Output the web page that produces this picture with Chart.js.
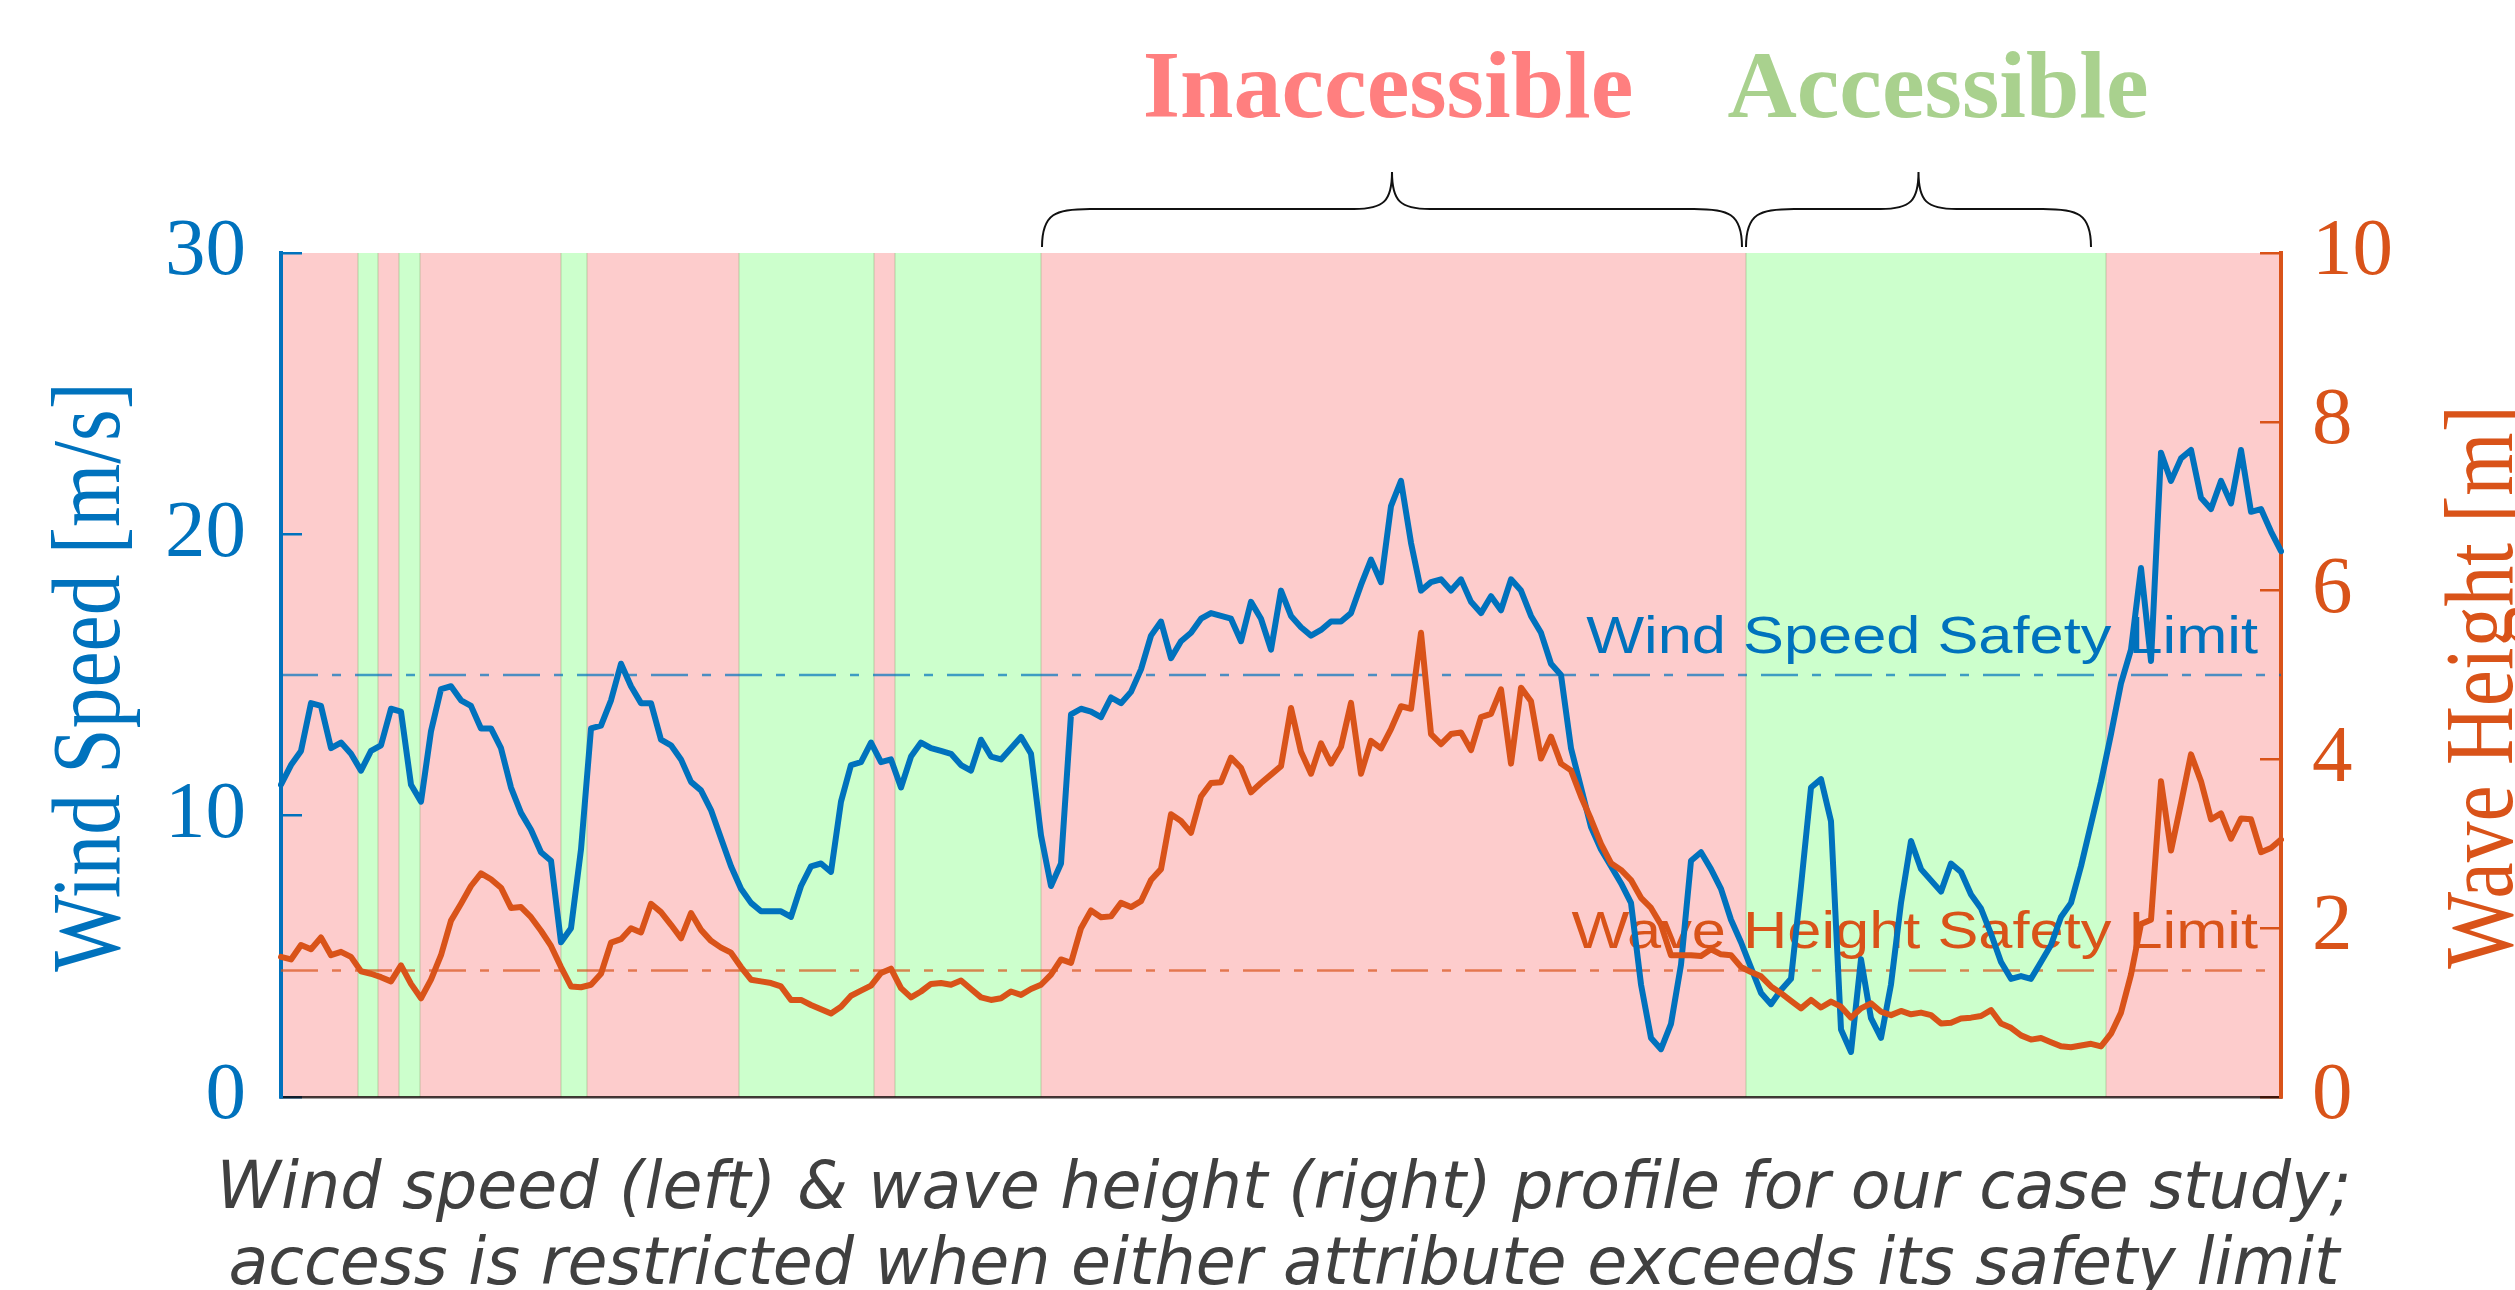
<!DOCTYPE html>
<html>
<head>
<meta charset="utf-8">
<script src="https://cdn.jsdelivr.net/npm/chart.js@4.4.1/dist/chart.umd.min.js"></script>
<style>
  html, body { margin: 0; padding: 0; background: #fff; }
  #wrap { position: relative; width: 2515px; height: 1290px; }
</style>
</head>
<body>
<div id="wrap"><canvas id="c"></canvas></div>
<script>
/* wind speed + wave height profile with access windows (Chart.js) */
(function () {
  'use strict';

  // one reading per hour
  const windSpeed = [
    11.1, 11.8, 12.3, 14.0, 13.9, 12.4, 12.6, 12.2, 11.6, 12.3, 12.5, 13.8, 13.7, 11.1, 10.5, 13.0, 14.5, 14.6, 14.1, 13.9, 13.1, 13.1, 12.4, 11.0, 10.1,
    9.5, 8.7, 8.4, 5.5, 6.0, 8.8, 13.1, 13.2, 14.1, 15.4, 14.6, 14.0, 14.0, 12.7, 12.5, 12.0, 11.2, 10.9, 10.2, 9.2, 8.2, 7.4, 6.9, 6.6, 6.6,
    6.6, 6.4, 7.5, 8.2, 8.3, 8.0, 10.5, 11.8, 11.9, 12.6, 11.9, 12.0, 11.0, 12.1, 12.6, 12.4, 12.3, 12.2, 11.8, 11.6, 12.7, 12.1, 12.0, 12.4, 12.8,
    12.2, 9.3, 7.5, 8.3, 13.6, 13.8, 13.7, 13.5, 14.2, 14.0, 14.4, 15.2, 16.4, 16.9, 15.6, 16.2, 16.5, 17.0, 17.2, 17.1, 17.0, 16.2, 17.6, 17.0, 15.9,
    18.0, 17.1, 16.7, 16.4, 16.6, 16.9, 16.9, 17.2, 18.2, 19.1, 18.3, 21.0, 21.9, 19.7, 18.0, 18.3, 18.4, 18.0, 18.4, 17.6, 17.2, 17.8, 17.3, 18.4, 18.0,
    17.1, 16.5, 15.4, 15.0, 12.4, 11.0, 9.6, 8.8, 8.2, 7.6, 6.9, 4.0, 2.1, 1.7, 2.6, 4.7, 8.4, 8.7, 8.1, 7.4, 6.3, 5.5, 4.6, 3.7, 3.3,
    3.8, 4.2, 7.5, 11.0, 11.3, 9.8, 2.4, 1.6, 4.9, 2.8, 2.1, 4.0, 6.9, 9.1, 8.1, 7.7, 7.3, 8.3, 8.0, 7.2, 6.7, 5.8, 4.8, 4.2, 4.3,
    4.2, 4.8, 5.4, 6.4, 6.9, 8.2, 9.7, 11.2, 12.9, 14.7, 15.9, 18.8, 15.5, 22.9, 21.9, 22.7, 23.0, 21.3, 20.9, 21.9, 21.1, 23.0, 20.8, 20.9, 20.1, 19.4,
  ];
  const waveHeight = [
    1.66, 1.63, 1.80, 1.75, 1.89, 1.68, 1.72, 1.66, 1.49, 1.46, 1.42, 1.37, 1.56, 1.34, 1.17, 1.39, 1.68, 2.09, 2.29, 2.50, 2.65, 2.58, 2.48, 2.24, 2.25,
    2.13, 1.97, 1.79, 1.54, 1.31, 1.30, 1.33, 1.46, 1.83, 1.87, 2.00, 1.95, 2.29, 2.19, 2.04, 1.88, 2.18, 1.98, 1.85, 1.77, 1.71, 1.54, 1.39, 1.37, 1.35,
    1.31, 1.15, 1.15, 1.09, 1.04, 0.99, 1.07, 1.20, 1.26, 1.32, 1.47, 1.52, 1.29, 1.18, 1.25, 1.34, 1.35, 1.33, 1.38, 1.28, 1.18, 1.15, 1.17, 1.25, 1.21,
    1.28, 1.33, 1.45, 1.63, 1.59, 2.00, 2.21, 2.13, 2.14, 2.30, 2.25, 2.32, 2.57, 2.70, 3.35, 3.27, 3.13, 3.56, 3.72, 3.73, 4.02, 3.90, 3.61, 3.72, 3.82,
    3.92, 4.61, 4.09, 3.83, 4.19, 3.95, 4.15, 4.67, 3.83, 4.22, 4.13, 4.36, 4.63, 4.60, 5.50, 4.30, 4.18, 4.30, 4.32, 4.11, 4.50, 4.54, 4.83, 3.95, 4.85,
    4.69, 4.01, 4.27, 3.95, 3.87, 3.56, 3.29, 3.00, 2.77, 2.69, 2.57, 2.36, 2.24, 2.04, 1.68, 1.68, 1.68, 1.67, 1.75, 1.69, 1.68, 1.54, 1.48, 1.43, 1.31,
    1.23, 1.14, 1.05, 1.15, 1.06, 1.13, 1.07, 0.94, 1.05, 1.11, 1.01, 0.97, 1.02, 0.98, 1.00, 0.97, 0.87, 0.88, 0.93, 0.94, 0.96, 1.03, 0.87, 0.82, 0.73,
    0.68, 0.70, 0.65, 0.60, 0.59, 0.61, 0.63, 0.60, 0.75, 1.00, 1.45, 2.05, 2.10, 3.74, 2.92, 3.48, 4.06, 3.74, 3.29, 3.36, 3.06, 3.30, 3.29, 2.90, 2.95, 3.05,
  ];
  const hours = windSpeed.map((_, i) => i);

  const windTicks = [0, 10, 20, 30];
  const waveTicks = [0, 2, 4, 6, 8, 10];
  const windLimit = 15;   // m/s
  const waveLimit = 1.5;  // m

  // accessible windows [start, end] in hours; the rest is inaccessible
  const accessibleWindows = [[7.7, 9.7], [11.8, 13.9], [28.0, 30.6], [45.8, 59.3], [61.4, 76.0], [146.5, 182.5]];

  // braces above the plot
  const braceSpans = [[76.1, 146.1], [146.5, 181.0]];
  const braceLabels = ['Inaccessible', 'Accessible'];
  const braceLabelAt = [110.7, 165.7];

  const caption = [
    'Wind speed (left) & wave height (right) profile for our case study;',
    'access is restricted when either attribute exceeds its safety limit',
  ];

  const BLUE = '#0072BD', ORANGE = '#D95319';
  const SERIF = '"Liberation Serif", "Times New Roman", serif';
  const SANS = '"Liberation Sans", Arial, sans-serif';
  const BRACE_COLORS = ['#FF7F7F', '#A9D18E'];

  /* pink background, green accessible windows */
  const bands = {
    id: 'bands',
    beforeDraw(chart) {
      const { ctx, chartArea: a, scales: { x } } = chart;
      ctx.save();
      ctx.fillStyle = '#fdcccc';
      ctx.fillRect(a.left, a.top, a.width, a.height);
      ctx.fillStyle = '#ccffcc';
      accessibleWindows.forEach(([s, e]) => {
        const x0 = x.getPixelForValue(s), x1 = x.getPixelForValue(e);
        ctx.fillRect(x0, a.top, x1 - x0, a.height);
      });
      ctx.strokeStyle = 'rgba(150,175,125,0.45)'; ctx.lineWidth = 1.2;
      accessibleWindows.forEach(([s, e]) => {
        [s, e].forEach((v) => {
          const px = x.getPixelForValue(v);
          ctx.beginPath(); ctx.moveTo(px, a.top); ctx.lineTo(px, a.bottom); ctx.stroke();
        });
      });
      ctx.restore();
    },
  };

  /* dash-dot safety limits with their labels, under the data lines */
  const limits = {
    id: 'limits',
    beforeDatasetsDraw(chart) {
      const { ctx, chartArea: a, scales } = chart;
      [
        [scales.y, windLimit, 'rgba(0,114,189,0.7)', BLUE, 'Wind Speed Safety Limit'],
        [scales.y2, waveLimit, 'rgba(217,83,25,0.7)', ORANGE, 'Wave Height Safety Limit'],
      ].forEach(([sc, v, lineCol, textCol, txt]) => {
        const py = sc.getPixelForValue(v);
        ctx.save();
        ctx.strokeStyle = lineCol; ctx.lineWidth = 2.5; ctx.setLineDash([37, 14, 9, 14]);
        ctx.beginPath(); ctx.moveTo(a.left, py); ctx.lineTo(a.right, py); ctx.stroke();
        ctx.setLineDash([]);
        ctx.fillStyle = textCol; ctx.font = '52px ' + SANS;
        ctx.textAlign = 'right'; ctx.textBaseline = 'alphabetic';
        ctx.translate(a.right - 23, py - 22); ctx.scale(1.18, 1);
        ctx.fillText(txt, 0, 0);
        ctx.restore();
      });
    },
  };

  function brace(ctx, x0, x1, yb, yh, yt) {
    const xm = (x0 + x1) / 2;
    ctx.beginPath();
    ctx.moveTo(x0, yb);
    ctx.bezierCurveTo(x0, yh + 4, x0 + 14, yh, x0 + 48, yh);
    ctx.lineTo(xm - 38, yh);
    ctx.bezierCurveTo(xm - 8, yh, xm, yh - 8, xm, yt);
    ctx.bezierCurveTo(xm, yh - 8, xm + 8, yh, xm + 38, yh);
    ctx.lineTo(x1 - 48, yh);
    ctx.bezierCurveTo(x1 - 14, yh, x1, yh + 4, x1, yb);
    ctx.stroke();
  }

  /* axis titles, braces, labels and caption */
  const notes = {
    id: 'notes',
    afterDraw(chart) {
      const { ctx, chartArea: a, scales: { x } } = chart;
      const midY = (a.top + a.bottom) / 2;
      ctx.save();
      ctx.textAlign = 'center'; ctx.textBaseline = 'alphabetic';
      ctx.font = '97px ' + SERIF;
      [[BLUE, 'Wind Speed [m/s]', a.left - 162, midY + 2], [ORANGE, 'Wave Height [m]', a.right + 231, midY + 12]].forEach(([c, t, px, py]) => {
        ctx.save();
        ctx.fillStyle = c; ctx.translate(px, py); ctx.rotate(-Math.PI / 2); ctx.scale(0.84, 1);
        ctx.fillText(t, 0, 0);
        ctx.restore();
      });

      ctx.strokeStyle = '#111'; ctx.lineWidth = 2;
      ctx.font = 'bold 96px ' + SERIF;
      braceSpans.forEach(([s, e], k) => {
        brace(ctx, x.getPixelForValue(s), x.getPixelForValue(e), a.top - 6, a.top - 44, a.top - 81);
        ctx.fillStyle = BRACE_COLORS[k];
        ctx.fillText(braceLabels[k], x.getPixelForValue(braceLabelAt[k]), a.top - 136);
      });

      ctx.fillStyle = '#404040';
      ctx.font = 'italic 65px "DejaVu Sans", sans-serif';
      caption.forEach((t, k) => ctx.fillText(t, (a.left + a.right) / 2 + 3, a.bottom + 111 + k * 76));
      ctx.restore();
    },
  };

  const line = { pointRadius: 0, tension: 0, borderWidth: 6, borderJoinStyle: 'round', borderCapStyle: 'round' };

  new Chart(document.getElementById('c'), {
    type: 'line',
    data: {
      labels: hours,
      datasets: [
        Object.assign({ label: 'Wind Speed', data: windSpeed, yAxisID: 'y', borderColor: BLUE, order: 2 }, line),
        Object.assign({ label: 'Wave Height', data: waveHeight, yAxisID: 'y2', borderColor: ORANGE, order: 1 }, line),
      ],
    },
    options: {
      responsive: true, maintainAspectRatio: false, animation: false,
      layout: { padding: { top: 253, left: 0, right: 0, bottom: 0 } },
      plugins: { legend: { display: false }, tooltip: { enabled: false }, title: { display: false } },
      scales: {
        x: {
          type: 'category', offset: false,
          ticks: { display: false }, grid: { display: false },
          border: { display: true, color: 'rgba(20,8,8,0.8)', width: 2.5 },
          afterFit: (s) => { s.height = 193; },
        },
        y: {
          position: 'left', min: 0, max: 30,
          afterBuildTicks: (s) => { s.ticks = windTicks.map((v) => ({ value: v })); },
          ticks: { color: BLUE, padding: 56, font: { family: SERIF, size: 81 } },
          grid: { drawOnChartArea: false, drawTicks: true, tickLength: -21, color: BLUE, lineWidth: 2.5 },
          border: { color: BLUE, width: 4 },
          afterFit: (s) => { s.width = 281; },
        },
        y2: {
          position: 'right', min: 0, max: 10,
          afterBuildTicks: (s) => { s.ticks = waveTicks.map((v) => ({ value: v })); },
          ticks: { color: ORANGE, padding: 52, font: { family: SERIF, size: 81 } },
          grid: { drawOnChartArea: false, drawTicks: true, tickLength: -21, color: ORANGE, lineWidth: 2.5 },
          border: { color: ORANGE, width: 4 },
          afterFit: (s) => { s.width = 234; },
        },
      },
    },
    plugins: [bands, limits, notes],
  });
})();
</script>
</body>
</html>
